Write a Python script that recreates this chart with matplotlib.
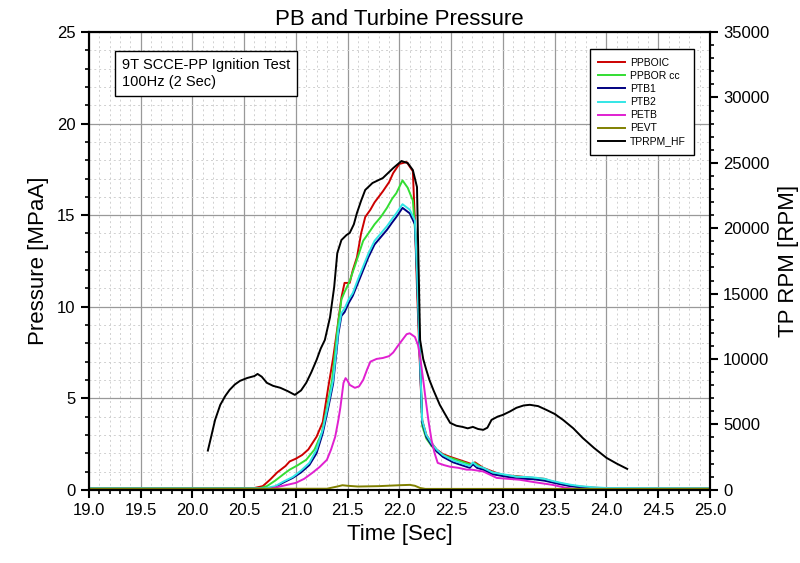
import numpy as np
import matplotlib.pyplot as plt
from matplotlib.ticker import MultipleLocator

plt.rcParams['font.family'] = ['Liberation Sans', 'DejaVu Sans']

# ---- data ----
t_ppboic = [19.0, 20.6, 20.68, 20.75, 20.82, 20.9, 20.94, 21.0, 21.06, 21.12, 21.2, 21.26, 21.31, 21.36,
            21.4, 21.44, 21.47, 21.52, 21.55, 21.59, 21.63, 21.67, 21.72, 21.76, 21.84, 21.9, 21.94, 22.0,
            22.07, 22.13, 22.15, 22.17, 22.2, 22.22, 22.26, 22.31, 22.36, 22.42, 22.49, 22.57, 22.65, 22.7,
            22.73, 22.81, 22.9, 23.0, 23.13, 23.29, 23.4, 23.48, 23.6, 23.7, 23.87, 24.0, 25.0]
ppboic = [0.1, 0.1, 0.2, 0.55, 0.95, 1.3, 1.55, 1.7, 1.9, 2.2, 2.9, 3.7, 5.5, 7.2,
          8.8, 10.5, 11.3, 11.3, 12.0, 12.7, 14.0, 14.9, 15.3, 15.7, 16.3, 16.8, 17.3, 17.8,
          17.9, 17.4, 14.6, 11.0, 6.5, 3.8, 3.0, 2.56, 2.2, 1.95, 1.8, 1.65, 1.5, 1.4,
          1.5, 1.2, 1.0, 0.8, 0.75, 0.65, 0.6, 0.45, 0.3, 0.2, 0.12, 0.08, 0.08]

t_pporcc = [19.0, 20.65, 20.72, 20.8, 20.88, 20.94, 21.02, 21.1, 21.18, 21.25, 21.3, 21.35, 21.4, 21.44,
            21.47, 21.52, 21.58, 21.65, 21.7, 21.76, 21.82, 21.88, 21.93, 21.97, 22.03, 22.08, 22.13, 22.16,
            22.2, 22.22, 22.26, 22.31, 22.36, 22.42, 22.49, 22.57, 22.65, 22.7, 22.73, 22.81, 22.9, 23.0,
            23.13, 23.29, 23.4, 23.48, 23.6, 23.7, 23.87, 24.0, 25.0]
pporcc = [0.08, 0.08, 0.2, 0.5, 0.85, 1.1, 1.35, 1.64, 2.2, 3.1, 4.5, 6.0, 8.7, 10.4,
          10.8, 11.4, 12.4, 13.6, 14.0, 14.5, 14.9, 15.4, 15.9, 16.2, 16.9, 16.5, 15.8, 13.5,
          7.5, 3.5, 2.8, 2.4, 2.1, 1.9, 1.75, 1.6, 1.45, 1.35, 1.45, 1.15, 0.95, 0.8,
          0.72, 0.62, 0.55, 0.42, 0.28, 0.18, 0.1, 0.07, 0.07]

t_ptb = [19.0, 20.7, 20.8, 20.88, 20.97, 21.05, 21.13, 21.2, 21.26, 21.31, 21.36, 21.41, 21.44, 21.47,
         21.51, 21.55, 21.6, 21.65, 21.7, 21.76, 21.82, 21.88, 21.93, 21.97, 22.03, 22.1, 22.15, 22.17,
         22.2, 22.22, 22.26, 22.31, 22.36, 22.42, 22.52, 22.6, 22.68, 22.71, 22.75, 22.81, 22.9, 23.0,
         23.13, 23.29, 23.4, 23.48, 23.56, 23.65, 23.75, 23.87, 24.0, 25.0]
ptb1 = [0.05, 0.05, 0.15, 0.4, 0.65, 0.95, 1.35, 2.0, 3.1, 4.4, 5.8, 8.5, 9.5, 9.7,
        10.2, 10.6, 11.3, 12.0, 12.7, 13.4, 13.8, 14.2, 14.6, 14.9, 15.4, 15.1, 14.5, 11.8,
        6.8, 3.7, 2.9, 2.45, 2.1, 1.8, 1.5, 1.35, 1.2, 1.4, 1.2, 1.1, 0.85, 0.75,
        0.62, 0.58, 0.5, 0.4, 0.3, 0.2, 0.14, 0.08, 0.05, 0.05]
ptb2 = [0.08, 0.08, 0.2, 0.45, 0.7, 1.05, 1.47, 2.2, 3.28, 4.6, 6.0, 8.7, 9.66, 9.9,
        10.4, 10.75, 11.5, 12.2, 12.9, 13.6, 14.0, 14.4, 14.8, 15.1, 15.6, 15.3, 14.7, 12.0,
        7.0, 3.8, 3.0, 2.55, 2.2, 1.9, 1.6, 1.45, 1.3, 1.5, 1.3, 1.2, 0.95, 0.85,
        0.72, 0.68, 0.6, 0.48, 0.38, 0.28, 0.2, 0.14, 0.1, 0.08]

t_petb = [19.0, 20.75, 20.82, 20.9, 21.0, 21.08, 21.16, 21.23, 21.3, 21.34, 21.38, 21.41, 21.43, 21.46,
          21.48, 21.5, 21.52, 21.57, 21.61, 21.65, 21.69, 21.72, 21.78, 21.84, 21.9, 21.94, 21.99, 22.03,
          22.07, 22.1, 22.15, 22.18, 22.2, 22.23, 22.25, 22.28, 22.31, 22.34, 22.37, 22.43, 22.49, 22.57,
          22.65, 22.7, 22.81, 22.94, 23.05, 23.16, 23.3, 23.48, 23.6, 23.7, 25.0]
petb = [0.05, 0.05, 0.15, 0.25, 0.38, 0.6, 0.93, 1.25, 1.64, 2.2, 2.9, 3.8, 4.5, 5.84,
        6.1, 5.95, 5.73, 5.57, 5.65, 6.0, 6.6, 7.0, 7.15, 7.2, 7.3, 7.5, 7.9, 8.2,
        8.5, 8.55, 8.35, 7.9, 7.26, 6.0, 5.1, 3.8, 2.73, 2.0, 1.47, 1.35, 1.26, 1.2,
        1.1, 1.1, 1.0, 0.65, 0.6, 0.55, 0.42, 0.27, 0.12, 0.05, 0.05]

t_pevt = [19.0, 21.3, 21.4, 21.45, 21.5, 21.6, 21.8, 22.0, 22.1, 22.15, 22.2, 22.25, 25.0]
pevt = [0.05, 0.06, 0.18, 0.25, 0.22, 0.18, 0.2, 0.25, 0.27, 0.22, 0.1, 0.05, 0.05]

t_rpm = [20.15, 20.18, 20.22, 20.27, 20.32, 20.36, 20.41, 20.46, 20.53, 20.6, 20.63, 20.67, 20.72, 20.78,
         20.85, 20.92, 20.99, 21.05, 21.1, 21.15, 21.2, 21.24, 21.28, 21.33, 21.37, 21.4, 21.44, 21.49,
         21.52, 21.56, 21.59, 21.63, 21.67, 21.74, 21.84, 21.94, 22.02, 22.08, 22.13, 22.17, 22.18, 22.2,
         22.23, 22.26, 22.29, 22.33, 22.39, 22.44, 22.49, 22.55, 22.61, 22.66, 22.71, 22.76, 22.81, 22.85,
         22.89, 22.95, 23.0, 23.07, 23.13, 23.2, 23.26, 23.34, 23.42, 23.5, 23.58, 23.68, 23.77, 23.88,
         24.0, 24.1, 24.2]
tprpm = [3000, 4000, 5350, 6500, 7200, 7640, 8050, 8330, 8550, 8700, 8860, 8650, 8180, 7950,
         7800, 7550, 7260, 7600, 8180, 9000, 9930, 10800, 11460, 13200, 15500, 18100, 19100, 19490,
         19640, 20300, 21170, 22100, 22930, 23460, 23840, 24600, 25140, 24990, 24450, 23150, 19100, 11460,
         10000, 9170, 8400, 7600, 6500, 5800, 5120, 4900, 4810, 4700, 4810, 4650, 4585, 4750,
         5350, 5600, 5730, 6000, 6270, 6450, 6500, 6400, 6110, 5800, 5350, 4700, 3970, 3200,
         2445, 2000, 1600]

# ---- figure ----
fig = plt.figure(figsize=(8, 5.63), dpi=100)
ax = fig.add_axes([0.111, 0.13, 0.7765, 0.813])
ax2 = ax.twinx()

lw = 1.4
h1, = ax.plot(t_ppboic, ppboic, color='#CC0000', lw=lw, label='PPBOIC')
h2, = ax.plot(t_pporcc, pporcc, color='#33DD33', lw=lw, label='PPBOR cc')
h3, = ax.plot(t_ptb, ptb1, color='#000080', lw=lw, label='PTB1')
h4, = ax.plot(t_ptb, ptb2, color='#33E6E6', lw=lw, label='PTB2')
h5, = ax.plot(t_petb, petb, color='#E020D0', lw=lw, label='PETB')
h6, = ax.plot(t_pevt, pevt, color='#808000', lw=lw, label='PEVT')
h7, = ax2.plot(t_rpm, tprpm, color='black', lw=lw, label='TPRPM_HF')

ax.set_xlim(19, 25)
ax.set_ylim(0, 25)
ax2.set_ylim(0, 35000)

ax.xaxis.set_major_locator(MultipleLocator(0.5))
ax.xaxis.set_minor_locator(MultipleLocator(0.1))
ax.yaxis.set_major_locator(MultipleLocator(5))
ax.yaxis.set_minor_locator(MultipleLocator(1))
ax2.yaxis.set_major_locator(MultipleLocator(5000))
ax2.yaxis.set_minor_locator(MultipleLocator(1000))
ax.xaxis.set_major_formatter(plt.FormatStrFormatter('%.1f'))

for a in (ax, ax2):
    a.tick_params(which='major', direction='out', length=6, width=1.5, labelsize=12)
    a.tick_params(which='minor', direction='out', length=3, width=1.2)
    for s in a.spines.values():
        s.set_linewidth(1.5)

ax.grid(True, which='major', color='#999999', lw=0.9, ls='-')
ax.grid(True, which='minor', color='#d0d0d0', lw=0.7, ls=(0, (2, 3)))
ax.set_axisbelow(True)

ax.set_title('PB and Turbine Pressure', fontsize=16, pad=5)
ax.set_xlabel('Time [Sec]', fontsize=16, labelpad=4)
ax.set_ylabel('Pressure [MPaA]', fontsize=16, labelpad=6)
ax2.set_ylabel('TP RPM [RPM]', fontsize=16, labelpad=6)

ax.text(0.053, 0.944, '9T SCCE-PP Ignition Test\n100Hz (2 Sec)', transform=ax.transAxes,
        fontsize=10.5, va='top', ha='left', linespacing=1.3,
        bbox=dict(boxstyle='square,pad=0.45', fc='white', ec='black', lw=1))

leg = ax2.legend(handles=[h1, h2, h3, h4, h5, h6, h7], loc='upper right',
                 bbox_to_anchor=(0.975, 0.962), fontsize=7.5, frameon=True, fancybox=False,
                 handlelength=2.6, labelspacing=0.3, borderpad=0.8, handletextpad=0.5,
                 borderaxespad=0)
leg.get_frame().set_edgecolor('black')
leg.get_frame().set_linewidth(1)
leg.get_frame().set_alpha(1)

fig.savefig('out.png', dpi=100)
